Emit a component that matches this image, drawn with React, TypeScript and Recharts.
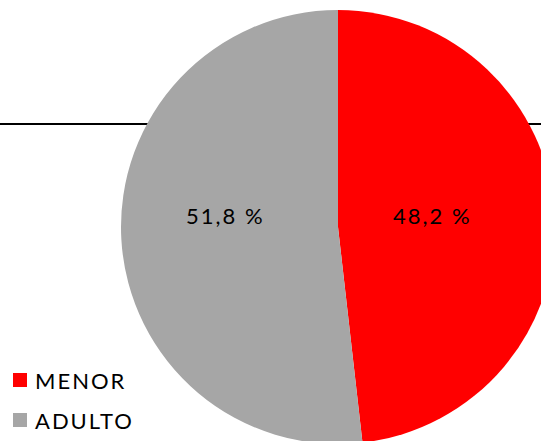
import { PieChart, Pie, Cell } from 'recharts'

const categories = ['MENOR', 'ADULTO']
const shares = [48.2, 51.8]
const colors = ['#FF0000', '#A6A6A6']
// how far out each data label sits, as a share of the radius
const labelRadius = [0.435, 0.52]

const data = categories.map((name, i) => ({ name, value: shares[i] }))

const RAD = Math.PI / 180

function renderLabel(props: any) {
  const { cx, cy, midAngle, outerRadius, value, index } = props
  const r = outerRadius * labelRadius[index]
  const x = cx + r * Math.cos(-midAngle * RAD)
  return (
    <text
      x={x}
      y={cy - 12}
      fill="#000"
      textAnchor="middle"
      dominantBaseline="central"
      style={{ fontSize: 22, fontFamily: 'Lato, sans-serif', letterSpacing: 2 }}
    >
      {value.toFixed(1).replace('.', ',')} %
    </text>
  )
}

function LegendBox() {
  return (
    <div style={{ position: 'absolute', left: 13, top: 360, fontFamily: 'Lato, sans-serif', fontSize: 22, color: '#000' }}>
      {categories.map((c, i) => (
        <div key={c} style={{ display: 'flex', alignItems: 'center', height: 40 }}>
          <span style={{ width: 14, height: 14, background: colors[i], marginRight: 8, display: 'inline-block' }} />
          <span style={{ letterSpacing: 2 }}>{c}</span>
        </div>
      ))}
    </div>
  )
}

export default function App() {
  return (
    <div style={{ position: 'fixed', top: 0, left: 0, width: 541, height: 441, background: '#fff', overflow: 'hidden' }}>
      <div style={{ position: 'absolute', left: 0, top: 123, width: 541, height: 2, background: '#000' }} />
      <div style={{ position: 'absolute', left: 0, top: 0 }}>
        <PieChart width={541} height={441} margin={{ top: 0, right: 0, bottom: 0, left: 0 }}>
          <Pie
            data={data}
            dataKey="value"
            nameKey="name"
            cx={338}
            cy={227}
            outerRadius={217}
            startAngle={90}
            endAngle={-270}
            stroke="none"
            label={renderLabel}
            labelLine={false}
            isAnimationActive={false}
          >
            {data.map((d, i) => (
              <Cell key={d.name} fill={colors[i]} />
            ))}
          </Pie>
        </PieChart>
      </div>
      <LegendBox />
    </div>
  )
}
